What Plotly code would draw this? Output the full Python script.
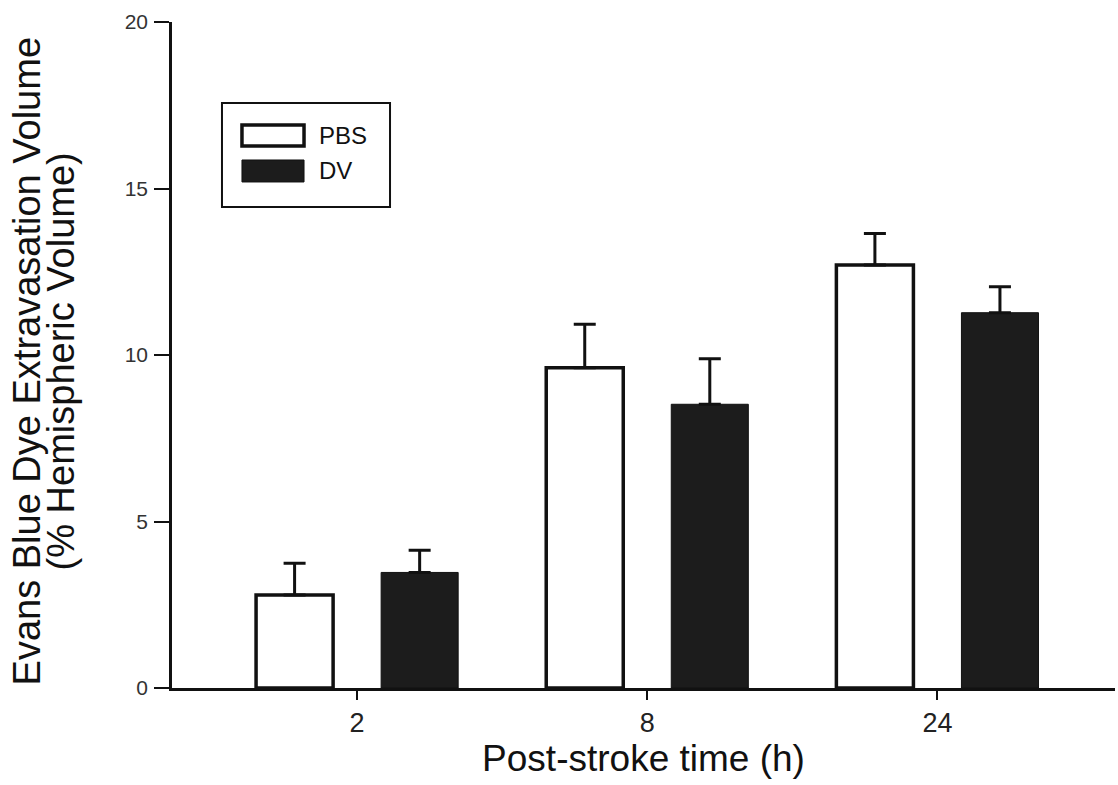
import plotly.graph_objects as go

# Evans blue extravasation by post-stroke time
times = ["2", "8", "24"]
pbs_mean = [2.79, 9.62, 12.70]
pbs_sem = [0.96, 1.30, 0.95]
dv_mean = [3.47, 8.52, 11.27]
dv_sem = [0.67, 1.37, 0.78]
series_names = ["PBS", "DV"]
y_ticks = [0, 5, 10, 15, 20]
y_title_lines = ["Evans Blue Dye Extravasation Volume", "(% Hemispheric Volume)"]

FONT = "Liberation Sans, Arial, sans-serif"
INK = "#111"

fig = go.Figure()
fig.add_trace(go.Bar(
    x=times, y=pbs_mean, name=series_names[0],
    marker=dict(color="white", line=dict(color=INK, width=3.5)),
    error_y=dict(type="data", array=pbs_sem, symmetric=False, arrayminus=[0] * 3,
                 color=INK, thickness=3, width=11),
    showlegend=False,
))
fig.add_trace(go.Bar(
    x=times, y=dv_mean, name=series_names[1],
    marker=dict(color="#1c1c1c", line=dict(color=INK, width=1)),
    error_y=dict(type="data", array=dv_sem, symmetric=False, arrayminus=[0] * 3,
                 color=INK, thickness=3, width=11),
    showlegend=False,
))

# legend box drawn in paper coordinates
shapes = [
    dict(type="rect", xref="paper", yref="paper", x0=0.0530, x1=0.2312, y0=0.7222, y1=0.8784,
         line=dict(color=INK, width=2), fillcolor="white"),
    dict(type="rect", xref="paper", yref="paper", x0=0.0742, x1=0.1400, y0=0.8138, y1=0.8453,
         line=dict(color=INK, width=3.5), fillcolor="white"),
    dict(type="rect", xref="paper", yref="paper", x0=0.0742, x1=0.1400, y0=0.7598, y1=0.7928,
         line=dict(color=INK, width=1), fillcolor="#1c1c1c"),
]
annotations = [
    dict(xref="paper", yref="paper", x=0.1535, y=0.8296, text=series_names[0], showarrow=False,
         xanchor="left", yanchor="middle", font=dict(family=FONT, size=24, color=INK)),
    dict(xref="paper", yref="paper", x=0.1535, y=0.7763, text=series_names[1], showarrow=False,
         xanchor="left", yanchor="middle", font=dict(family=FONT, size=24, color=INK)),
    # two-line y-axis title
    dict(xref="paper", yref="paper", x=-0.154, y=0.49, text=y_title_lines[0], showarrow=False,
         textangle=-90, xanchor="center", yanchor="middle",
         font=dict(family=FONT, size=38, color=INK)),
    dict(xref="paper", yref="paper", x=-0.118, y=0.49, text=y_title_lines[1], showarrow=False,
         textangle=-90, xanchor="center", yanchor="middle",
         font=dict(family=FONT, size=38, color=INK)),
]

fig.update_layout(
    width=1118, height=785,
    margin=dict(l=172, r=3, t=22, b=97),
    paper_bgcolor="white", plot_bgcolor="white",
    barmode="group", bargap=0.138, bargroupgap=0.384,
    font=dict(family=FONT, color=INK),
    shapes=shapes, annotations=annotations,
    xaxis=dict(
        range=[-0.638, 2.612], showgrid=False, zeroline=False,
        showline=True, linecolor=INK, linewidth=2.5,
        ticks="outside", ticklen=9, tickwidth=1.5, tickcolor=INK,
        tickfont=dict(family=FONT, size=27, color="#222"),
        title=dict(text="Post-stroke time (h)", font=dict(family=FONT, size=37, color=INK),
                   standoff=4),
    ),
    yaxis=dict(
        range=[0, 20], tickvals=y_ticks, showgrid=False, zeroline=False,
        showline=True, linecolor=INK, linewidth=2.5,
        ticks="outside", ticklen=15, tickwidth=1.5, tickcolor=INK,
        ticklabelstandoff=2,
        tickfont=dict(family=FONT, size=21, color="#333"),
    ),
)

fig.write_html("out.html")
